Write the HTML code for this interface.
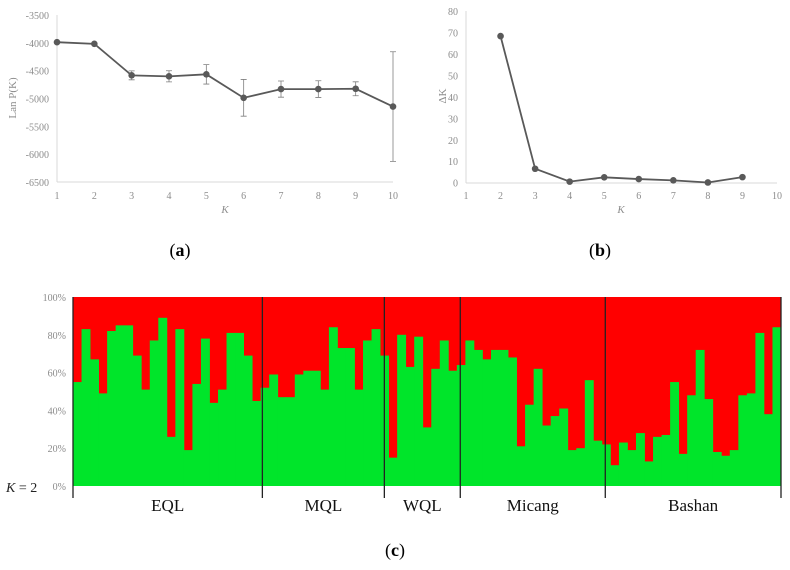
<!DOCTYPE html>
<html><head><meta charset="utf-8"><style>
html,body{margin:0;padding:0;background:#fff;width:790px;height:570px;overflow:hidden}
svg{display:block;font-family:"Liberation Serif",serif}
</style></head><body>
<svg id="s" width="790" height="570" viewBox="0 0 790 570"></svg>
<script>
// ---- data ----
const kValues = [1,2,3,4,5,6,7,8,9,10];
const lnPK = [-3988,-4018,-4584,-4602,-4566,-4988,-4831,-4831,-4825,-5145];
const lnPKErr = [0,0,80,100,175,330,145,150,125,985];
const aYTicks = [-3500,-4000,-4500,-5000,-5500,-6000,-6500];
const deltaKs = [2,3,4,5,6,7,8,9];
const deltaK = [68.3,6.5,0.5,2.5,1.7,1.1,0.1,2.6];
const bYTicks = [0,10,20,30,40,50,60,70,80];
const greenPct = [55,83,67,49,82,85,85,69,51,77,89,26,83,19,54,78,44,51,81,81,69,45,
 52,59,47,47,59,61,61,51,84,73,73,51,77,83,
 69,15,80,63,79,31,62,77,61,64,
 77,72,67,72,72,68,21,43,62,32,37,41,19,20,56,24,22,
 11,23,19,28,13,26,27,55,17,48,72,46,18,16,19,48,49,81,38,84];
const groupNames = ["EQL","MQL","WQL","Micang","Bashan"];
const groupBounds = [0,22.2,36.5,45.4,62.4,83];
const cYTicks = [0,20,40,60,80,100];

const NS="http://www.w3.org/2000/svg", svg=document.getElementById('s');
function mk(tag,attrs,parent,txt){const e=document.createElementNS(NS,tag);for(const k in attrs)e.setAttribute(k,attrs[k]);if(txt!==undefined)e.textContent=txt;(parent||svg).appendChild(e);return e;}

// ---- chart a ----
const ga=mk('g',{});  
const ax=k=>57+(k-1)*(393-57)/9, ay=v=>15+(-3500-v)*(182-15)/3000;
mk('line',{x1:57,y1:15,x2:57,y2:182,stroke:'#d9d9d9'},ga);
mk('line',{x1:57,y1:182,x2:393,y2:182,stroke:'#d9d9d9'},ga);
aYTicks.forEach(t=>{const e=mk('text',{x:49,y:ay(t)+4,'text-anchor':'end','font-size':10,fill:'#8c8c8c'},ga,t);});
kValues.forEach(k=>{const e=mk('text',{x:ax(k),y:199,'text-anchor':'middle','font-size':10,fill:'#8c8c8c'},ga,k);});
{const e=mk('text',{x:225,y:213,'text-anchor':'middle','font-size':11,'font-style':'italic',fill:'#8c8c8c'},ga,'K');}
{const e=mk('text',{x:0,y:0,transform:'translate(16,98) rotate(-90)','text-anchor':'middle','font-size':11,fill:'#8c8c8c'},ga,'Lan P(K)');}
kValues.forEach((k,i)=>{if(!lnPKErr[i])return;const x=ax(k),y1=ay(lnPK[i]+lnPKErr[i]),y2=ay(lnPK[i]-lnPKErr[i]);
 const e=mk('path',{d:`M${x},${y1}V${y2}M${x-3},${y1}h6M${x-3},${y2}h6`,stroke:'#7f7f7f',fill:'none','stroke-width':0.8},ga);});
{const e=mk('polyline',{points:kValues.map((k,i)=>ax(k)+','+ay(lnPK[i])).join(' '),fill:'none',stroke:'#595959','stroke-width':1.8},ga);}
kValues.forEach((k,i)=>{const e=mk('circle',{cx:ax(k),cy:ay(lnPK[i]),r:3.3,fill:'#595959'},ga);});

// ---- chart b ----
const gb=mk('g',{});  
const bx=k=>466+(k-1)*(777-466)/9, by=v=>182.7-v*(182.7-11)/80;
mk('line',{x1:466,y1:11,x2:466,y2:183,stroke:'#d9d9d9'},gb);
mk('line',{x1:466,y1:183,x2:777,y2:183,stroke:'#d9d9d9'},gb);
bYTicks.forEach(t=>{const e=mk('text',{x:458,y:by(t)+4,'text-anchor':'end','font-size':10,fill:'#8c8c8c'},gb,t);});
kValues.forEach(k=>{const e=mk('text',{x:bx(k),y:199,'text-anchor':'middle','font-size':10,fill:'#8c8c8c'},gb,k);});
{const e=mk('text',{x:621,y:213,'text-anchor':'middle','font-size':11,'font-style':'italic',fill:'#8c8c8c'},gb,'K');}
{const e=mk('text',{x:0,y:0,transform:'translate(446,96) rotate(-90)','text-anchor':'middle','font-size':11,fill:'#8c8c8c'},gb,'ΔK');}
{const e=mk('polyline',{points:deltaKs.map((k,i)=>bx(k)+','+by(deltaK[i])).join(' '),fill:'none',stroke:'#595959','stroke-width':1.8},gb);}
deltaKs.forEach((k,i)=>{const e=mk('circle',{cx:bx(k),cy:by(deltaK[i]),r:3.3,fill:'#595959'},gb);});

// panel labels
[['(a)',180,256],['(b)',600,256],['(c)',395,556]].forEach(([t,x,y])=>{const e=mk('text',{x:x,y:y,'text-anchor':'middle','font-size':18,fill:'#000'},svg);
 e.appendChild(document.createTextNode('('));const b=mk('tspan',{'font-weight':'bold'},e,t[1]);e.appendChild(document.createTextNode(')'));
 });

// ---- chart c ----
const gc=mk('g',{});  
const cx0=73,cx1=781,cTop=297,cBot=486,bw=(cx1-cx0)/greenPct.length;
const cy=p=>cBot-p*(cBot-cTop)/100;
mk('rect',{x:cx0,y:cTop,width:cx1-cx0,height:cBot-cTop,fill:'#ff0000'},gc);
greenPct.forEach((p,i)=>{const e=mk('rect',{x:cx0+i*bw,y:cy(p),width:bw+0.4,height:cBot-cy(p),fill:'#00e52a'},gc);});
cYTicks.forEach(t=>{const e=mk('text',{x:66,y:cy(t)+4,'text-anchor':'end','font-size':10,fill:'#8c8c8c'},gc,t+'%');});
groupBounds.forEach(b=>{const x=cx0+b*bw;const e=mk('line',{x1:x,y1:cTop,x2:x,y2:498,stroke:'#222','stroke-width':1.3},gc);});
groupNames.forEach((n,i)=>{const x=cx0+(groupBounds[i]+groupBounds[i+1])/2*bw;const e=mk('text',{x:x,y:511,'text-anchor':'middle','font-size':17,fill:'#111'},gc,n);});
{const e=mk('text',{x:6,y:492,'font-size':14,fill:'#222'},gc);mk('tspan',{'font-style':'italic'},e,'K');e.appendChild(document.createTextNode(' = 2'));}
</script>
</body></html>
